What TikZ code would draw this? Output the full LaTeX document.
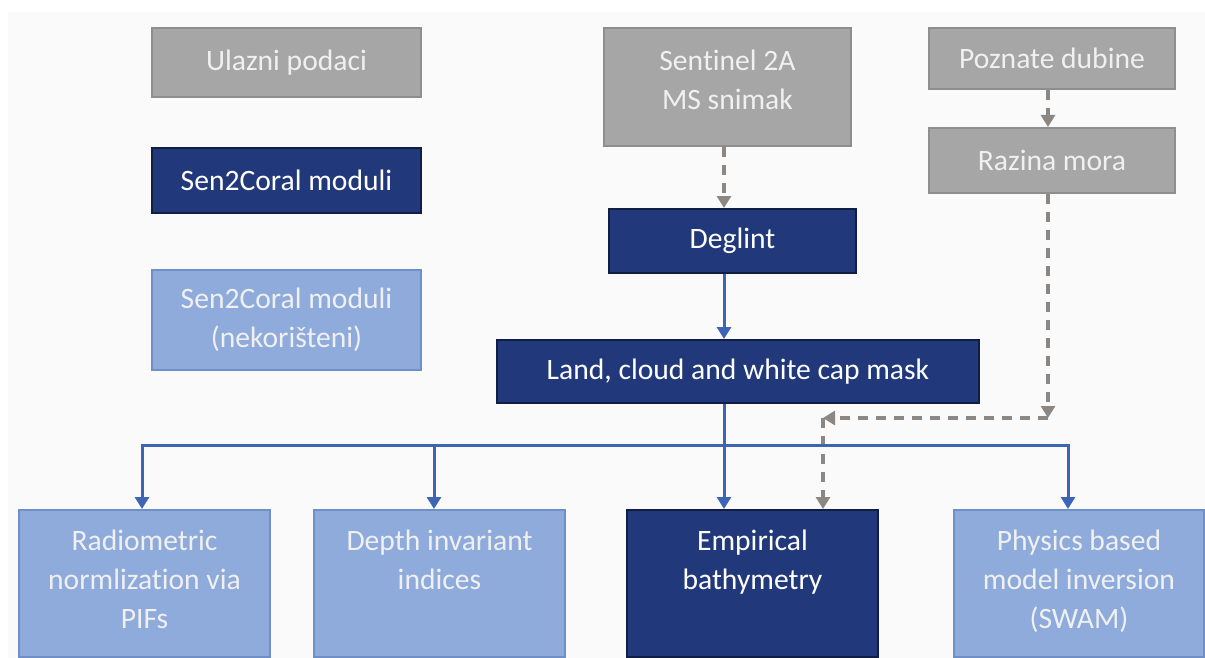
\documentclass[tikz,border=0pt]{standalone}
\usepackage{fontspec}
\setmainfont{Carlito}[Ligatures=NoCommon]
\usetikzlibrary{arrows.meta}
\usepackage{xcolor}
\definecolor{mybg}{HTML}{FAFAFA}
\definecolor{mygrey}{HTML}{A6A6A6}
\definecolor{mygreyline}{HTML}{8E8E8E}
\definecolor{mygreytext}{HTML}{F0F0F0}
\definecolor{mynavy}{HTML}{21397A}
\definecolor{mynavyline}{HTML}{101E45}
\definecolor{mylight}{HTML}{8EABDB}
\definecolor{mylightline}{HTML}{6F8FC6}
\definecolor{myarrow}{HTML}{3D65B4}
\definecolor{mydash}{HTML}{8C8782}

\newcommand{\toplines}[1]{\parbox[c][54pt][t]{122pt}{\centering #1}}

\tikzset{
  box/.style={draw, line width=1pt, inner sep=0pt, align=center,
    font=\fontsize{14.8}{19.5}\selectfont},
  input/.style={box, fill=mygrey, draw=mygreyline, text=mygreytext},
  module/.style={box, fill=mynavy, draw=mynavyline, text=white},
  unused/.style={box, fill=mylight, draw=mylightline, text=mygreytext},
  flow/.style={-{Triangle[width=7pt,length=6pt]}, line width=1.5pt, color=myarrow},
  data/.style={-{Triangle[width=7pt,length=6pt]}, line width=2pt, color=mydash,
    dash pattern=on 5pt off 4pt}
}

\begin{document}
\begin{tikzpicture}[x=0.5pt,y=-0.5pt]

      \pgfmathsetmacro{\topY}{62.5}
      \pgfmathsetmacro{\deglintY}{241}
      \pgfmathsetmacro{\maskY}{371.5}
      \pgfmathsetmacro{\dataY}{418}
      \pgfmathsetmacro{\busY}{445}
      \pgfmathsetmacro{\methodY}{583.5}

      \useasboundingbox (0,0) rectangle (1205,658);
      \fill [mybg] (8,12) rectangle (1205,658);

      % legend
      \node [input, name=ulaz, minimum width=134.5pt, minimum height=34.5pt] at (286.5,\topY) {Ulazni podaci};
      \node [module, name=modul, minimum width=134.5pt, minimum height=32.5pt] at (286.5,180.5) {Sen2Coral moduli};
      \node [unused, name=nekor, minimum width=134.5pt, minimum height=50pt] at (286.5,320) {Sen2Coral moduli\\(nekorišteni)};

      % inputs
      \node [input, name=sent, minimum width=123.5pt, minimum height=59pt] at (727.5,87) {\parbox[c][37pt][t]{120pt}{\centering Sentinel 2A\\MS snimak}};
      \node [input, name=pozn, minimum width=123pt, minimum height=30.5pt] at (1052,58.5) {Poznate dubine};
      \node [input, name=razina, minimum width=123pt, minimum height=32.5pt] at (1052,160.5) {Razina mora};

      % modules
      \node [module, name=deglint, minimum width=123.5pt, minimum height=32pt] at (732.5,\deglintY) {Deglint};
      \node [module, name=mask, minimum width=241pt, minimum height=31.5pt] at (738,\maskY) {Land, cloud and white cap mask};

      % methods
      \node [unused, name=radio, minimum width=125.5pt, minimum height=73.5pt] at (144.5,\methodY) {\toplines{Radiometric\\normlization via\\PIFs}};
      \node [unused, name=depth, minimum width=125.5pt, minimum height=73.5pt] at (439.5,\methodY) {\toplines{Depth invariant\\indices}};
      \node [module, name=emp, minimum width=125.5pt, minimum height=73.5pt] at (752.5,\methodY) {\toplines{Empirical\\bathymetry}};
      \node [unused, name=phys, minimum width=125pt, minimum height=73.5pt] at (1079,\methodY) {\toplines{Physics based\\model inversion\\(SWAM)}};

      % guide points
      \coordinate (trunk) at (724,\busY);
      \coordinate (sea) at (1048,\dataY);
      \coordinate (seaturn) at (823,\dataY);
      \coordinate (busL) at (142,\busY);
      \coordinate (busD) at (434,\busY);
      \coordinate (busR) at (1068,\busY);

      % data links
      \draw [data] (sent.south -| trunk) -- (deglint.north -| trunk);
      \draw [data] (pozn.south -| sea) -- (razina.north -| sea);
      \draw [data] (razina.south -| sea) -- (sea);
      \draw [data] (sea) -- (seaturn);
      \draw [data] (seaturn) -- (emp.north -| seaturn);

      % processing chain
      \draw [flow] (deglint.south -| trunk) -- (mask.north -| trunk);
      \draw [flow] (mask.south -| trunk) -- (emp.north -| trunk);
      \draw [flow] (trunk) -- (busL) -- (radio.north -| busL);
      \draw [flow] (busD) -- (depth.north -| busD);
      \draw [flow] (trunk) -- (busR) -- (phys.north -| busR);

\end{tikzpicture}
\end{document}
